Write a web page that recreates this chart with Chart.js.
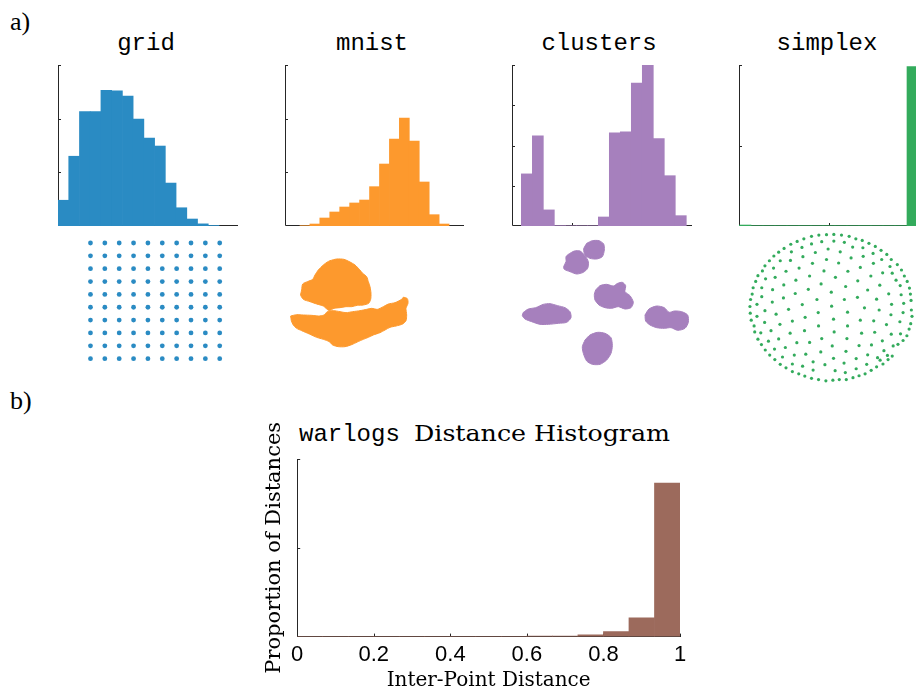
<!DOCTYPE html>
<html>
<head>
<meta charset="utf-8">
<script src="https://cdn.jsdelivr.net/npm/chart.js@4.4.1/dist/chart.umd.min.js"></script>
<style>
  body { margin: 0; width: 916px; height: 692px; overflow: hidden; position: relative; background: #fff; }
  canvas { position: absolute; }
  .lbl { position: absolute; font-family: "Liberation Serif", serif; font-size: 26px; line-height: 26px; color: #000; }
  .ttl { position: absolute; font-family: "Liberation Mono", monospace; font-size: 24px; line-height: 24px; white-space: nowrap; color: #000; transform: translateX(-50%); }
  .ser { font-family: "DejaVu Serif", serif; font-size: 22px; display: inline-block; transform: scaleX(1.15); transform-origin: left; }
</style>
</head>
<body>
<div class="lbl" style="left:10px;top:9px">a)</div>
<div class="lbl" style="left:10px;top:388px">b)</div>
<div class="ttl" style="left:146px;top:32px">grid</div>
<div class="ttl" style="left:372px;top:32px">mnist</div>
<div class="ttl" style="left:599px;top:32px">clusters</div>
<div class="ttl" style="left:827px;top:32px">simplex</div>
<div class="ttl" style="left:299px;top:422px;transform:none">warlogs <span class="ser">Distance Histogram</span></div>

<script>
// histogram bin heights (15 bins each, in y-tick units)
const gridBins = [0.48, 1.30, 2.13, 2.13, 2.53, 2.52, 2.42, 1.99, 1.64, 1.49, 0.80, 0.34, 0.13, 0.04, 0.01];
const mnistBins = [0.006, 0.037, 0.149, 0.261, 0.354, 0.429, 0.484, 0.733, 1.155, 1.621, 2.012, 1.584, 0.820, 0.211, 0.037];
const clustersBins = [1.295, 2.24, 0.40, 0.01, 0.005, 0.005, 0.005, 0.224, 2.315, 2.34, 3.55, 3.99, 2.17, 1.25, 0.257];
const simplexBins = [0.012, 0.004, 0.004, 0.004, 0.004, 0.004, 0.004, 0.004, 0.004, 0.004, 0.004, 0.004, 0.004, 0.004, 1.98];
const warlogsBins = [0.003, 0.003, 0.003, 0.003, 0.003, 0.003, 0.003, 0.003, 0.003, 0.007, 0.007, 0.019, 0.056, 0.212, 1.729];
const warlogsXTicks = [0, 0.2, 0.4, 0.6, 0.8, 1];

// grid embedding: 10 x 10 lattice
const gridCols = [1, 2, 3, 4, 5, 6, 7, 8, 9, 10];
const gridRows = [1, 2, 3, 4, 5, 6, 7, 8, 9, 10];

// mnist embedding outlines (two dense regions)
const mnistUpper = [[180,62],[200,57],[222,58],[240,66],[255,75],[268,88],[278,100],[290,110],[295,125],[300,140],[303,160],[302,178],[296,190],[280,195],[262,196],[245,200],[228,200],[210,203],[192,205],[178,212],[168,205],[160,198],[140,192],[120,185],[100,178],[92,165],[95,150],[98,132],[112,125],[128,118],[135,105],[145,90],[160,75],[172,66],[180,62]];
const mnistLower = [[62,228],[80,224],[100,225],[125,226],[145,228],[162,225],[172,215],[190,212],[210,215],[228,218],[248,215],[270,212],[290,208],[305,205],[322,208],[340,200],[355,192],[375,188],[395,178],[400,172],[412,176],[414,190],[408,205],[410,225],[408,242],[398,252],[378,258],[360,262],[345,270],[330,278],[310,285],[295,292],[280,298],[262,306],[245,314],[225,320],[205,320],[188,315],[178,305],[160,298],[140,292],[118,282],[95,272],[80,265],[70,255],[64,242],[62,228]];

// clusters embedding outlines (six groups)
const clusterA = [[245,55],[262,47],[282,47],[296,57],[298,75],[292,95],[275,102],[255,100],[240,90],[236,72],[245,55]];
const clusterB = [[190,88],[208,78],[225,78],[240,92],[250,110],[248,130],[235,142],[215,147],[195,140],[178,133],[176,125],[183,110],[183,95],[190,88]];
const clusterC = [[272,195],[285,182],[305,178],[325,183],[338,175],[352,172],[362,182],[360,200],[375,212],[385,232],[378,248],[360,252],[340,245],[320,250],[300,248],[282,240],[270,225],[268,208],[272,195]];
const clusterD = [[55,262],[70,252],[92,248],[115,238],[135,236],[158,242],[180,248],[195,260],[198,278],[185,292],[160,295],[130,298],[105,298],[80,290],[60,282],[52,272],[55,262]];
const clusterE = [[420,270],[432,252],[455,243],[478,248],[492,262],[508,258],[530,260],[548,270],[550,292],[540,310],[518,316],[498,308],[478,310],[455,308],[435,300],[422,288],[420,270]];
const clusterF = [[240,345],[255,330],[278,322],[300,325],[318,338],[322,362],[318,385],[305,405],[285,418],[262,418],[245,408],[235,385],[232,365],[240,345]];

// simplex embedding points
const simplexPts = [
  [219,31],[243,23],[266,19],[290,18],[313,17],[337,19],[361,23],[382,31],[402,36],
  [198,39],[178,48],[243,47],[275,40],[313,38],[346,42],[423,45],[443,55],
  [157,61],[140,73],[213,58],[180,72],[255,74],[295,63],[333,72],[372,57],[404,59],[436,77],[461,67],[479,80],
  [125,85],[111,100],[145,100],[177,99],[216,87],[290,96],[328,107],[367,91],[405,86],[463,96],[493,96],[512,112],
  [97,116],[124,123],[89,132],[163,133],[204,123],[246,108],[282,132],[357,133],[396,121],[437,108],[489,118],[496,139],[525,129],
  [75,147],[99,157],[129,152],[194,161],[237,148],[318,152],[429,148],[466,138],[534,148],[68,165],[156,176],[273,173],[350,181],[388,163],[457,177],[508,161],[543,165],
  [60,185],[87,185],[121,191],[233,190],[305,199],[419,192],[485,204],[521,178],[550,186],
  [57,205],[87,213],[155,217],[192,203],[260,222],[346,222],[387,215],[447,221],[524,207],[553,205],[52,222],[120,230],
  [72,237],[214,238],[306,243],[409,248],[494,237],[532,234],[555,225],[50,244],
  [97,257],[171,253],[264,263],[356,262],[455,255],[530,263],[51,265],[132,268],[72,275],[223,278],[492,270],[556,255],[558,275],
  [54,287],[96,294],[183,290],[312,284],[396,287],[438,289],[520,292],[63,305],[144,300],[265,305],[356,305],[478,301],[554,298],
  [84,327],[116,320],[221,320],[176,328],[314,324],[400,328],[441,325],[549,315],[65,324],[493,331],[522,330],
  [75,347],[108,353],[140,346],[197,358],[237,357],[275,345],[354,345],[465,352],[542,336],[530,351],[86,364],[308,368],
  [98,381],[127,378],[161,373],[272,387],[351,385],[392,367],[431,365],[470,383],[499,368],[514,363],[112,397],
  [152,403],[189,397],[225,394],[312,407],[383,408],[419,396],[450,405],[481,398],[496,400],[128,411],[248,418],[285,427],[345,422],[416,426],
  [145,426],[163,437],[183,425],[215,432],[383,440],[447,434],[467,425],[483,411],[183,449],[248,444],[317,446],[349,452],[430,445],[458,413],
  [203,456],[222,463],[243,470],[265,474],[288,478],[310,476],[330,474],[352,474],[373,468],[392,462],[411,456]
];

const BLUE = '#2a8bc3', ORANGE = '#fd992d', PURPLE = '#a680bd', GREEN = '#33ab5c', BROWN = '#9c6a5c';

// MATLAB-like axes: left/bottom frame and inward tick marks
const inTicks = {
  id: 'inTicks',
  beforeDatasetsDraw(chart, args, o) {
    if (!o.on) return;
    const {ctx, chartArea: a} = chart;
    const x = chart.scales.x, y = chart.scales.y;
    ctx.save();
    ctx.strokeStyle = '#262626';
    ctx.lineWidth = 1;
    ctx.beginPath();
    if (o.frame) {
      ctx.moveTo(a.left + 0.5, a.top);
      ctx.lineTo(a.left + 0.5, a.bottom - 0.5);
      ctx.lineTo(a.right, a.bottom - 0.5);
    }
    y.ticks.forEach(t => {
      const p = Math.round(y.getPixelForValue(t.value)) + 0.5;
      ctx.moveTo(a.left, p); ctx.lineTo(a.left + o.len, p);
    });
    x.ticks.forEach(t => {
      const p = Math.round(x.getPixelForValue(t.value)) + 0.5;
      ctx.moveTo(p, a.bottom); ctx.lineTo(p, a.bottom - o.len);
    });
    ctx.stroke();
    ctx.restore();
  }
};
Chart.register(inTicks);

function makeCanvas(left, top, w, h) {
  const c = document.createElement('canvas');
  c.width = w; c.height = h;
  c.style.left = left + 'px';
  c.style.top = top + 'px';
  document.body.appendChild(c);
  return c;
}

const noPlugins = { legend: { display: false }, tooltip: { enabled: false } };

function histogram(el, bins, color, xMin, xMax, yMax, xTicks, yTicks) {
  return new Chart(el, {
    type: 'bar',
    data: {
      datasets: [{
        data: bins.map((v, i) => ({ x: i + 0.5, y: v })),
        backgroundColor: color,
        borderWidth: 0,
        barPercentage: 1,
        categoryPercentage: 1
      }]
    },
    options: {
      responsive: false,
      animation: false,
      layout: { padding: 4 },
      plugins: { ...noPlugins, inTicks: { on: true, frame: true, len: 3 } },
      scales: {
        x: { type: 'linear', display: false, offset: false, min: xMin, max: xMax,
             afterBuildTicks: s => { s.ticks = xTicks.map(v => ({ value: v })); } },
        y: { display: false, min: 0, max: yMax,
             afterBuildTicks: s => { s.ticks = yTicks.map(v => ({ value: v })); } }
      }
    }
  });
}

function blob(pts, color) {
  return {
    data: pts.map(([x, y]) => ({ x, y })),
    showLine: true,
    fill: 'shape',
    backgroundColor: color,
    borderColor: color,
    borderWidth: 1,
    pointRadius: 0,
    tension: 0.25,
    clip: false
  };
}

function embedding(el, datasets, xMin, xMax, yMin, yMax, reverse) {
  return new Chart(el, {
    type: 'scatter',
    data: { datasets },
    options: {
      responsive: false,
      animation: false,
      layout: { padding: 0 },
      plugins: noPlugins,
      scales: {
        x: { display: false, min: xMin, max: xMax },
        y: { display: false, min: yMin, max: yMax, reverse }
      }
    }
  });
}

// a) histograms
histogram(makeCanvas(54, 61, 188, 169), gridBins, BLUE, 0, 16.77, 3, [], [1, 2, 3]);
histogram(makeCanvas(281, 61, 187, 169), mnistBins, ORANGE, -1.5, 16.5, 3, [], [1, 2, 3]);
histogram(makeCanvas(508, 61, 188, 169), clustersBins, PURPLE, -0.85, 15.52, 4, [4.65], [1, 2, 3, 4]);
histogram(makeCanvas(735, 61, 188, 169), simplexBins, GREEN, 0, 15, 2, [7.53], [1, 2]);

// a) embeddings
embedding(makeCanvas(50, 225, 200, 170), [{
  data: gridRows.flatMap(r => gridCols.map(c => ({ x: c, y: r }))),
  backgroundColor: BLUE, borderWidth: 0, pointRadius: 2.4, clip: false
}], -1.54, 11.83, -1.52, 11.09, false);

embedding(makeCanvas(270, 240, 160, 120), [blob(mnistUpper, ORANGE), blob(mnistLower, ORANGE)], 0, 480, 0, 360, true);

embedding(makeCanvas(505, 225, 200, 170),
  [clusterA, clusterB, clusterC, clusterD, clusterE, clusterF].map(p => blob(p, PURPLE)), 0, 600, 0, 510, true);

embedding(makeCanvas(730, 225, 186, 170), [{
  data: simplexPts.map(([x, y]) => ({ x, y })),
  backgroundColor: GREEN, borderWidth: 0, pointRadius: 1.6, clip: false
}], 0, 558, 0, 510, true);

// b) warlogs distance histogram
new Chart(makeCanvas(250, 420, 450, 271), {
  type: 'bar',
  data: {
    datasets: [{
      data: warlogsBins.map((v, i) => ({ x: (i + 0.5) / warlogsBins.length, y: v })),
      backgroundColor: BROWN,
      borderWidth: 0,
      barPercentage: 1,
      categoryPercentage: 1
    }]
  },
  options: {
    responsive: false,
    animation: false,
    layout: { padding: { left: 12, top: 39, right: 20, bottom: 0 } },
    plugins: { ...noPlugins, inTicks: { on: true, frame: false, len: 3 } },
    scales: {
      x: {
        type: 'linear', offset: false, min: 0, max: 1,
        afterBuildTicks: s => { s.ticks = warlogsXTicks.map(v => ({ value: v })); },
        grid: { display: false, drawTicks: false },
        border: { display: true, color: '#262626', width: 1 },
        ticks: { padding: 5, color: '#000', font: { family: 'Liberation Sans', size: 22 },
                 callback: v => String(v) },
        title: { display: true, text: 'Inter-Point Distance', color: '#000', padding: { top: -2, bottom: 0 },
                 font: { family: 'DejaVu Serif', size: 20, lineHeight: 1 } }
      },
      y: {
        min: 0, max: 2,
        afterBuildTicks: s => { s.ticks = [1, 2].map(v => ({ value: v })); },
        grid: { display: false, drawTicks: false },
        border: { display: true, color: '#262626', width: 1 },
        ticks: { display: false },
        title: { display: true, text: 'Proportion of Distances', color: '#000', padding: { top: 0, bottom: 10 },
                 font: { family: 'DejaVu Serif', size: 21 } }
      }
    }
  }
});
</script>
</body>
</html>
